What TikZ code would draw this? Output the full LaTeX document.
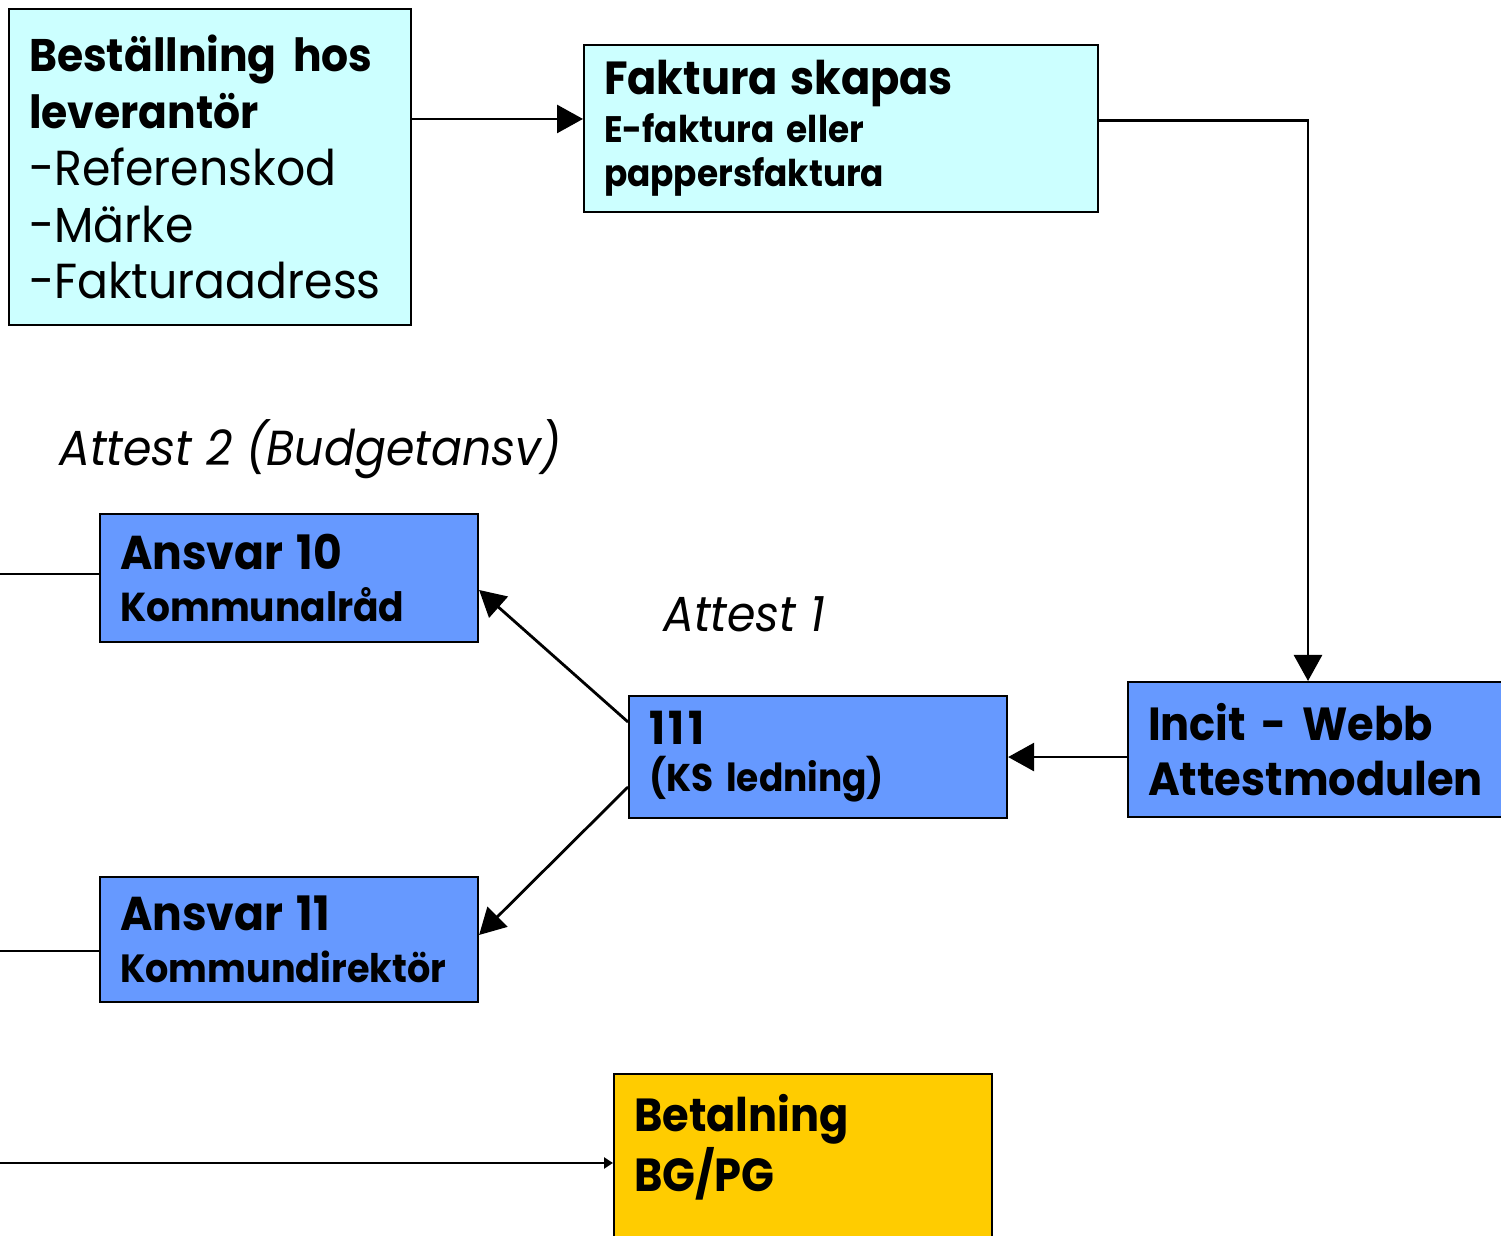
\documentclass[tikz,border=0pt]{standalone}
\usepackage{fontspec}
\setmainfont{Poppins}[FakeStretch=0.93]
\usetikzlibrary{positioning,arrows.meta,calc}

\begin{document}
\begin{tikzpicture}[
  box/.style={draw=black,line width=0.6pt,anchor=north west,align=left,
    inner xsep=0.2cm,inner ysep=0pt},
  arr/.style={line width=0.8pt,-{Triangle[length=0.26cm,width=0.28cm]}},
  lin/.style={line width=0.8pt},
  note/.style={anchor=base west,font=\itshape\fontsize{14}{17}\selectfont},
]

\definecolor{order}{RGB}{204,255,255}
\definecolor{attest}{RGB}{102,153,255}
\definecolor{pay}{RGB}{255,204,0}

\useasboundingbox (0,0) rectangle (15.01,12.36);

% ===================== ORDER AND INVOICE =====================
\node[box,fill=order,minimum width=4.02cm,minimum height=3.16cm,text width=3.62cm,
  font=\fontsize{14}{16.2}\selectfont] (best) at (0.08,12.28)
  {{\bfseries\fontsize{13}{16.4}\selectfont Beställning hos}\\
   {\bfseries\fontsize{13}{16.4}\selectfont leverantör}\\-Referenskod\\-Märke\\-Fakturaadress};
\node[box,fill=order,minimum width=5.14cm,minimum height=1.67cm,text width=4.74cm,
  font=\bfseries\fontsize{10.5}{12.5}\selectfont] (fakt) at (5.83,11.92)
  {{\fontsize{13.2}{15}\selectfont Faktura skapas}\\[1.2pt]E-faktura eller\\pappersfaktura};

% ===================== ATTEST =====================
\node[box,fill=attest,minimum width=4.2cm,minimum height=1.35cm,text width=3.8cm,
  font=\bfseries\fontsize{13.2}{15.6}\selectfont] (incit) at (11.27,5.55)
  {Incit - Webb\\Attestmodulen};
\node[box,fill=attest,minimum width=3.78cm,minimum height=1.22cm,text width=3.38cm,
  font=\bfseries\fontsize{11}{12.5}\selectfont] (ks) at (6.28,5.41)
  {{\fontsize{13}{15}\selectfont 1\kern1pt1\kern1pt1}\\[0.9pt](KS ledning)};
\node[box,fill=attest,minimum width=3.78cm,minimum height=1.28cm,text width=3.38cm,
  font=\bfseries\fontsize{11.5}{12.5}\selectfont] (ans10) at (0.99,7.23)
  {{\fontsize{13.5}{15}\selectfont Ansvar 10}\\[2.3pt]Kommunalråd};
\node[box,fill=attest,minimum width=3.78cm,minimum height=1.25cm,text width=3.38cm,
  font=\bfseries\fontsize{11.2}{12.5}\selectfont] (ans11) at (0.99,3.60)
  {{\fontsize{13.5}{15}\selectfont Ansvar 11}\\[2.3pt]Kommundirektör};

\node[note] (att2) at (0.47,7.70) {Attest 2 (Budgetansv)};
\node[note] (att1) at (6.51,6.04) {Attest 1};

% ===================== PAYMENT =====================
\node[box,fill=pay,minimum width=3.78cm,text width=3.38cm,inner ysep=0.2cm,text depth=2.2cm,
  font=\bfseries\fontsize{13.2}{15.9}\selectfont] (bet) at (6.13,1.63)
  {Betalning\\BG/PG};

% ===================== CONNECTORS =====================
\coordinate (lft) at (-0.1,0);
\coordinate (b1) at ([yshift=-1.11cm]best.north east);
\coordinate (f1) at ([yshift=0.08cm]fakt.east);
\draw[arr] (b1) -- (b1 -| fakt.west);
\draw[arr] (f1) -| ([xshift=1.81cm]incit.north west);
\draw[arr] (incit.west |- ks.east) -- (ks.east);
\draw[arr] ([yshift=-0.27cm]ks.north west) -- ([yshift=-0.77cm]ans10.north east);
\draw[arr] ([yshift=-0.92cm]ks.north west) -- ([yshift=-0.59cm]ans11.north east);
\coordinate (l10) at ([yshift=-0.61cm]ans10.north west);
\coordinate (l11) at ([yshift=-0.75cm]ans11.north west);
\draw[lin] (l10) -- (l10 -| lft);
\draw[lin] (l11) -- (l11 -| lft);
\coordinate (p1) at ([yshift=-0.9cm]bet.north west);
\draw[lin,-{Triangle[length=0.09cm,width=0.11cm]}] (p1 -| lft) -- (p1);

\end{tikzpicture}
\end{document}
